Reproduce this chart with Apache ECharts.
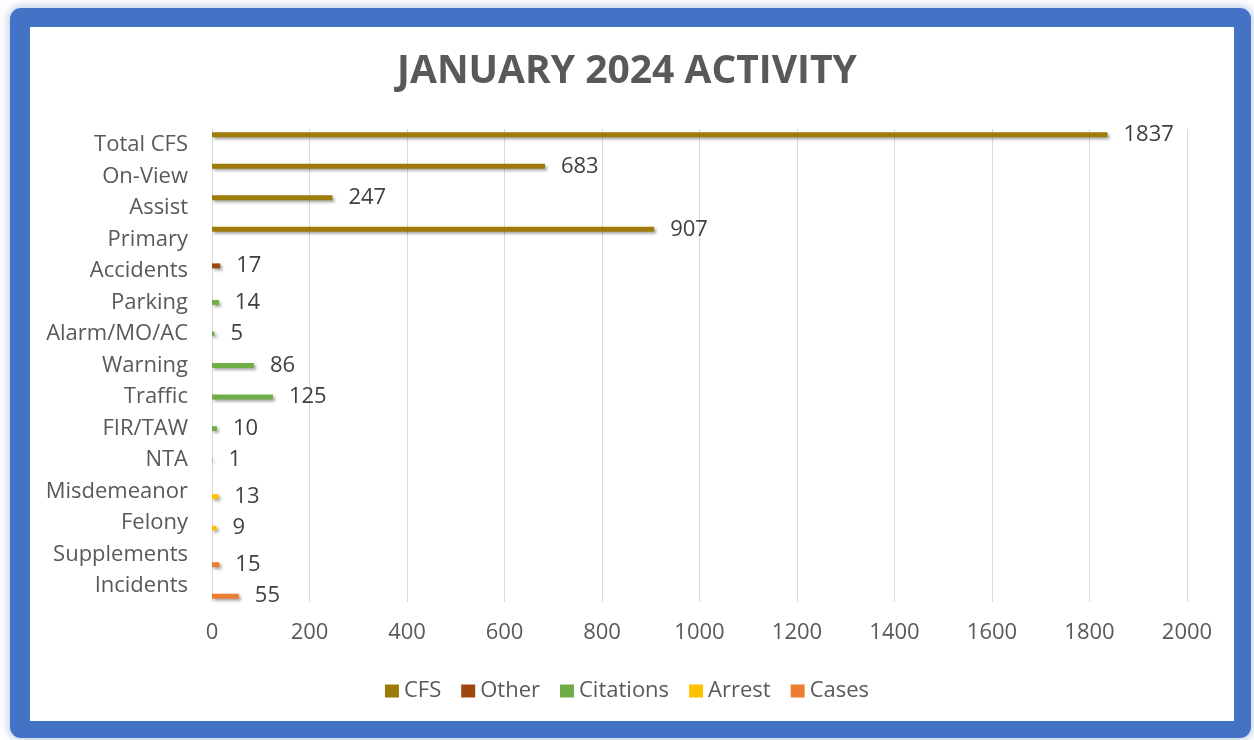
<!DOCTYPE html>
<html>
<head>
<meta charset="utf-8">
<script src="https://cdn.jsdelivr.net/npm/echarts@6/dist/echarts.min.js"></script>
<style>
  html, body { margin: 0; padding: 0; background: #ffffff; width: 1254px; height: 740px; overflow: hidden; }
  #frame { position: absolute; left: 10px; top: 8px; width: 1241px; height: 730px; box-sizing: border-box;
    border-style: solid; border-color: #4472C4; border-width: 19px 17px 17px 20px; border-radius: 11px;
    box-shadow: 0 0 8px 2px rgba(68,114,196,0.35); background: #ffffff; }
  #chart { position: absolute; left: 0; top: 0; width: 1254px; height: 740px; }
</style>
</head>
<body>
<div id="frame"></div>
<div id="chart"></div>
<script>
const categories = ['Total CFS', 'On-View', 'Assist', 'Primary', 'Accidents', 'Parking', 'Alarm/MO/AC',
  'Warning', 'Traffic', 'FIR/TAW', 'NTA', 'Misdemeanor', 'Felony', 'Supplements', 'Incidents'];
const seriesNames = ['CFS', 'Other', 'Citations', 'Arrest', 'Cases'];
const cfsValues       = [1837, 683, 247, 907, null, null, null, null, null, null, null, null, null, null, null];
const otherValues     = [null, null, null, null, 17, null, null, null, null, null, null, null, null, null, null];
const citationsValues = [null, null, null, null, null, 14, 5, 86, 125, 10, 1, null, null, null, null];
const arrestValues    = [null, null, null, null, null, null, null, null, null, null, null, 13, 9, null, null];
const casesValues     = [null, null, null, null, null, null, null, null, null, null, null, null, null, 15, 55];
const xTicks = [0, 200, 400, 600, 800, 1000, 1200, 1400, 1600, 1800, 2000];
const colors = ['#9E7A0A', '#9E480E', '#70AD47', '#FFC000', '#ED7D31'];

const allValues = [cfsValues, otherValues, citationsValues, arrestValues, casesValues];
const FONT = '"Open Sans", Lato, sans-serif';

const chart = echarts.init(document.getElementById('chart'), null, { renderer: 'canvas' });
chart.setOption({
  backgroundColor: 'transparent',
  animation: false,
  title: {
    text: 'JANUARY 2024 ACTIVITY',
    left: 'center',
    top: 47,
    textStyle: { fontFamily: FONT, fontWeight: 'bold', fontSize: 39, color: '#595959' }
  },
  legend: {
    bottom: 33,
    left: 'center',
    itemWidth: 14,
    itemHeight: 13,
    itemGap: 20,
    icon: 'rect',
    textStyle: { fontFamily: FONT, fontSize: 22, color: '#595959' },
    data: seriesNames
  },
  grid: { left: 212, right: 67, top: 129, bottom: 138, containLabel: false },
  xAxis: {
    type: 'value',
    min: xTicks[0],
    max: xTicks[xTicks.length - 1],
    interval: 200,
    axisLine: { show: false },
    axisTick: { show: false },
    splitLine: { show: true, lineStyle: { color: '#D9D9D9', width: 1 } },
    axisLabel: { fontFamily: FONT, fontSize: 22, color: '#595959', margin: 20, formatter: v => String(v) }
  },
  yAxis: {
    type: 'category',
    inverse: true,
    data: categories,
    axisLine: { show: true, lineStyle: { color: '#D9D9D9', width: 1 } },
    axisTick: { show: false },
    axisLabel: { fontFamily: FONT, fontSize: 22, color: '#595959', margin: 24, interval: 0 }
  },
  series: seriesNames.map((name, i) => ({
    name: name,
    type: 'bar',
    data: allValues[i],
    barWidth: 5,
    barGap: '0%',
    itemStyle: {
      color: colors[i],
      shadowColor: 'rgba(0,0,0,0.35)',
      shadowBlur: 3,
      shadowOffsetX: 2,
      shadowOffsetY: 2
    },
    label: {
      show: true,
      position: 'right',
      distance: 16,
      fontFamily: FONT,
      fontSize: 22,
      color: '#404040'
    }
  }))
});
</script>
</body>
</html>
